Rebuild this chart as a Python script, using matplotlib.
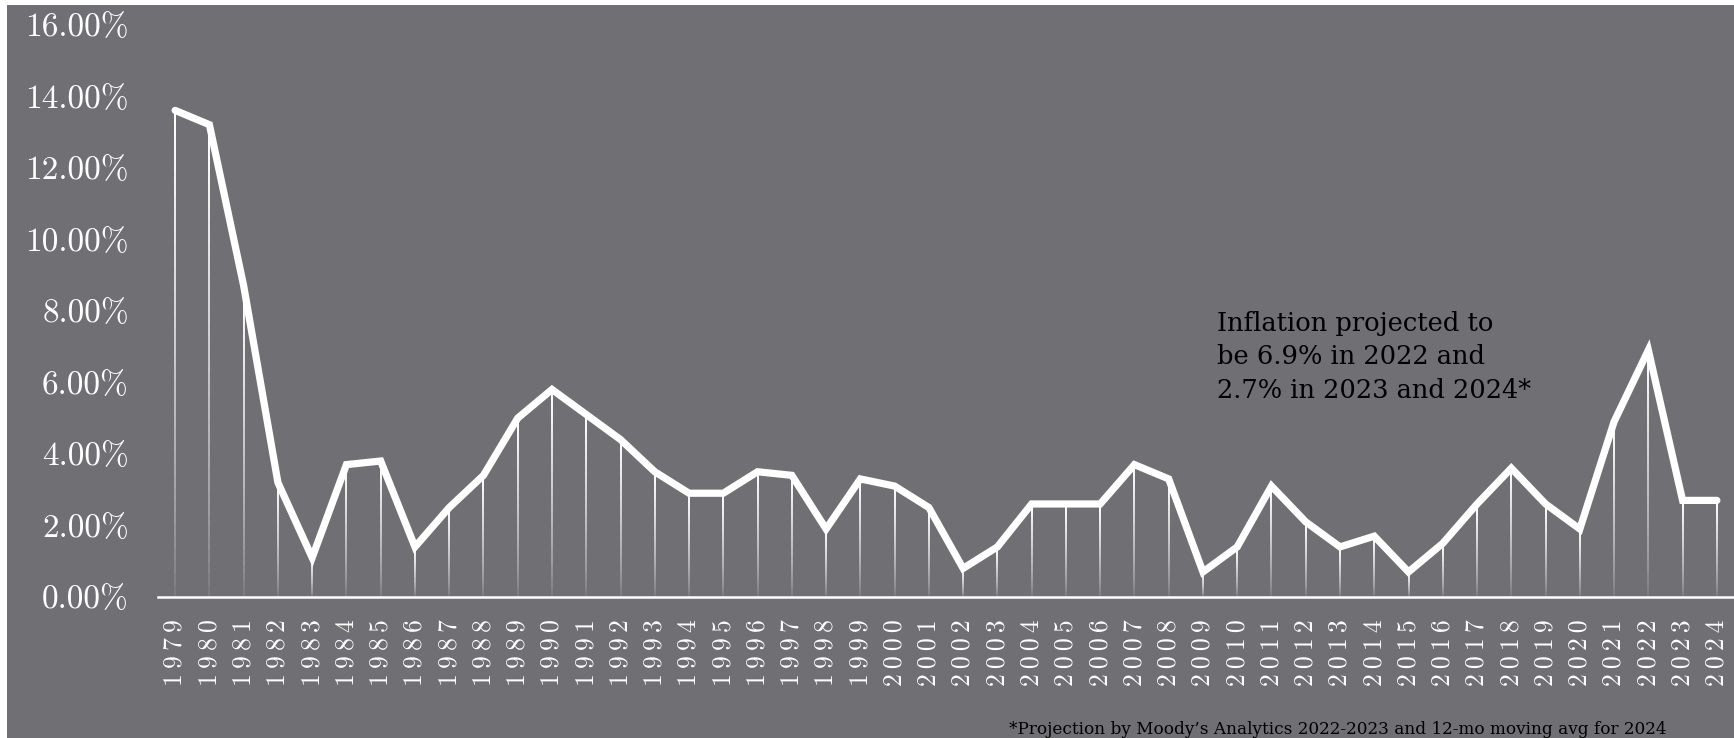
import numpy as np
import matplotlib
matplotlib.use("Agg")
import matplotlib.pyplot as plt
from matplotlib.collections import LineCollection
from matplotlib.patches import Rectangle

years = list(range(1979, 2025))
inflation = [13.6, 13.2, 8.7, 3.2, 1.1, 3.7, 3.8, 1.4, 2.5, 3.4,
             5.0, 5.8, 5.1, 4.4, 3.5, 2.9, 2.9, 3.5, 3.4, 1.9,
             3.3, 3.1, 2.5, 0.8, 1.4, 2.6, 2.6, 2.6, 3.7, 3.3,
             0.7, 1.4, 3.1, 2.1, 1.4, 1.7, 0.7, 1.5, 2.6, 3.6,
             2.6, 1.9, 4.9, 6.9, 2.7, 2.7]
y_ticks = [0, 2, 4, 6, 8, 10, 12, 14, 16]
y_tick_labels = ["0.00%", "2.00%", "4.00%", "6.00%", "8.00%",
                 "10.00%", "12.00%", "14.00%", "16.00%"]
annotation = "Inflation projected to\nbe 6.9% in 2022 and\n2.7% in 2023 and 2024*"
footnote = "*Projection by Moody\u2019s Analytics 2022-2023 and 12-mo moving avg for 2024"

BG = "#706f74"
W, H = 1734, 738
fig = plt.figure(figsize=(W / 100, H / 100), dpi=100, facecolor="white")
fig.patches.append(Rectangle((7 / W, 0), 1 - 7 / W, (H - 5) / H,
                             transform=fig.transFigure, facecolor=BG,
                             edgecolor="none", zorder=-10))

ax = fig.add_axes([158 / W, (H - 597) / H, 1 - 158 / W, (597 - 24.5) / H])
ax.set_facecolor("none")
ax.set_zorder(1)

x = np.arange(len(years))

# gradient drop lines
segs, cols = [], []
n = 40
for xi, v in zip(x, inflation):
    ys = np.linspace(0, v, n + 1)
    alphas = np.linspace(0.03, 1.0, n) ** 0.7
    for k in range(n):
        segs.append([(xi, ys[k]), (xi, ys[k + 1])])
        cols.append((1, 1, 1, alphas[k]))
ax.add_collection(LineCollection(segs, colors=cols, linewidths=1.3, zorder=2,
                                 capstyle="butt", antialiaseds=False))

ax.plot(x, inflation, color="white", linewidth=5.2, solid_joinstyle="miter",
        solid_capstyle="round", zorder=3)

ax.set_xlim(-0.5, len(years) - 0.5)
ax.set_ylim(0, 16)

for s in ["top", "right", "left"]:
    ax.spines[s].set_visible(False)
ax.spines["bottom"].set_color("white")
ax.spines["bottom"].set_linewidth(1.8)

tick_font = ["cmr10", "DejaVu Serif"]
ax.set_yticks(y_ticks)
ax.set_yticklabels(y_tick_labels, fontsize=24, color="white", family=tick_font)
ax.set_xticks(x)
ax.set_xticklabels(["\u2009".join(str(yv)) for yv in years], rotation=90,
                   fontsize=18.5, color="white", family=tick_font)
ax.tick_params(axis="y", length=0, pad=21)
ax.tick_params(axis="x", length=0, pad=16)

ax.text(30.42, 8.0, annotation, fontsize=18.5, color="black",
        family="DejaVu Serif", va="top", ha="left", linespacing=1.43)

fig.text(1009 / W, 4 / H, footnote, fontsize=12.2, color="black",
         family="DejaVu Serif", va="baseline", ha="left")

fig.savefig("out.png", dpi=100, facecolor="white")
